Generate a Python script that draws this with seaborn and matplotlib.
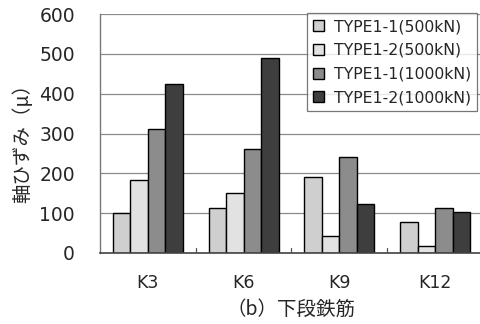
import matplotlib
matplotlib.use("Agg")
import matplotlib.pyplot as plt
import seaborn as sns
import pandas as pd

categories = ["K3", "K6", "K9", "K12"]
series_names = ["TYPE1-1(500kN)", "TYPE1-2(500kN)", "TYPE1-1(1000kN)", "TYPE1-2(1000kN)"]
s1 = [100, 113, 192, 77]
s2 = [184, 151, 43, 18]
s3 = [312, 262, 242, 114]
s4 = [424, 490, 122, 102]
yticks = [0, 100, 200, 300, 400, 500, 600]
colors = ["#cfcfcf", "#e2e2e2", "#8c8c8c", "#3e3e3e"]

rows = []
for name, vals in zip(series_names, [s1, s2, s3, s4]):
    for c, v in zip(categories, vals):
        rows.append({"cat": c, "series": name, "val": v})
df = pd.DataFrame(rows)

sns.set_theme(style="white")
plt.rcParams['font.family'] = ['DejaVu Sans', 'Noto Sans CJK JP']

fig = plt.figure(figsize=(4.81, 3.24), dpi=100)
ax = fig.add_axes([100/481, (324-253)/324, 383/481, 239/324])

sns.barplot(data=df, x="cat", y="val", hue="series", order=categories,
            hue_order=series_names, palette=colors, width=0.73,
            edgecolor="black", linewidth=1.0, saturation=1, ax=ax, errorbar=None)

ax.set_ylim(0, 600)
ax.set_xlim(-0.5, 3.5)
ax.set_yticks(yticks)
ax.set_yticklabels([str(t) for t in yticks], fontsize=13.5)
ax.set_xticks(range(len(categories)))
ax.set_xticklabels(categories, fontsize=12.5)
ax.tick_params(axis='x', length=0, pad=15)
ax.tick_params(axis='y', length=0, pad=18)
for b in [0.5, 1.5, 2.5]:
    ax.plot([b, b], [0, 12], color="#555555", lw=0.9, zorder=1)

ax.yaxis.grid(True, color="#8a8a8a", lw=0.9)
ax.set_axisbelow(True)
for s in ["top", "right"]:
    ax.spines[s].set_visible(False)
ax.spines["left"].set_color("#777777")
ax.spines["bottom"].set_color("#444444")
ax.spines["left"].set_linewidth(1.0)
ax.spines["bottom"].set_linewidth(1.2)

ax.set_ylabel("軸ひずみ（μ）", fontsize=14,
              family=['Noto Sans CJK JP', 'DejaVu Sans'])
ax.yaxis.set_label_coords((33 - 100) / 383, (253 - 138) / 239)
ax.set_xlabel("（b）下段鉄筋", fontsize=14, labelpad=5,
              family=['Noto Sans CJK JP', 'DejaVu Sans'])

leg = ax.legend(loc="upper left", bbox_to_anchor=(307/481, 1 - 13/324),
                bbox_transform=fig.transFigure, borderaxespad=0,
                frameon=True, fancybox=False, edgecolor="#555555",
                handlelength=0.7, handleheight=0.7, handletextpad=0.6,
                labelspacing=0.55, borderpad=0.4,
                prop={'family': ['DejaVu Sans'], 'size': 11.3})
leg.get_frame().set_linewidth(0.9)
leg.set_title(None)

fig.savefig("out.png", dpi=100)
